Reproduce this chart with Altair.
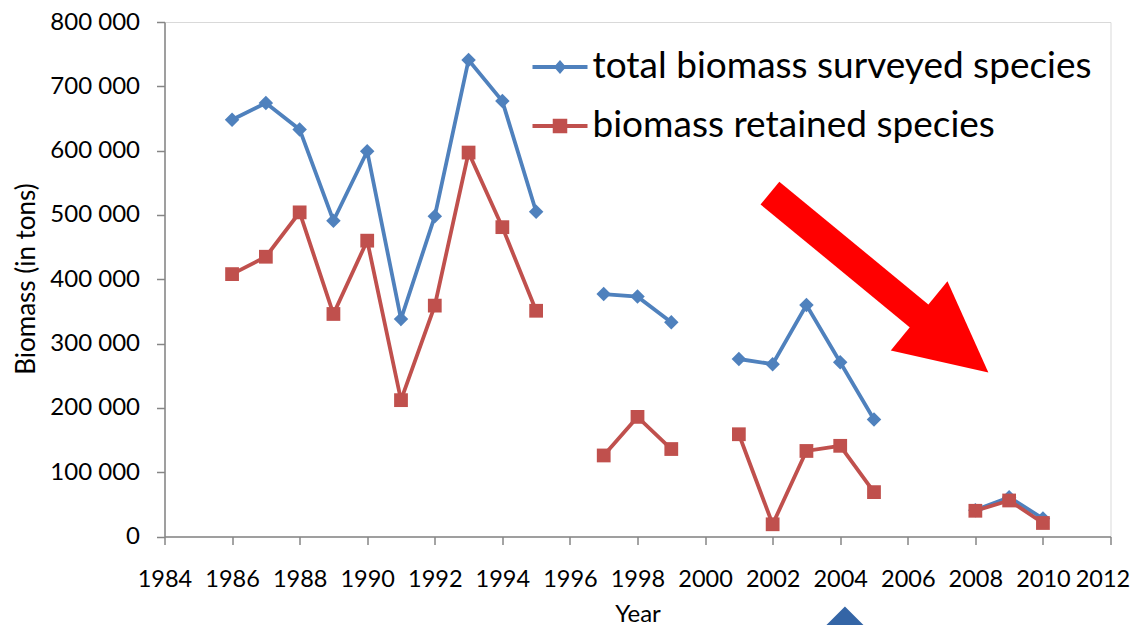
import altair as alt
import pandas as pd

# ---------------- data ----------------
years = [1986, 1987, 1988, 1989, 1990, 1991, 1992, 1993, 1994, 1995,
         1997, 1998, 1999, 2001, 2002, 2003, 2004, 2005, 2008, 2009, 2010]
total_biomass = [648000, 674000, 633000, 491000, 599000, 338000, 498000, 741000, 677000, 505000,
                 377000, 373000, 333000, 276000, 268000, 360000, 271000, 182000, 41000, 61000, 28000]
retained_biomass = [408000, 435000, 504000, 346000, 460000, 212000, 359000, 597000, 481000, 351000,
                    126000, 186000, 136000, 159000, 19000, 133000, 141000, 69000, 40000, 56000, 21000]
series_names = ["total biomass surveyed species", "biomass retained species"]
series_colors = ["#4F81BD", "#C0504D"]
x_ticks = list(range(1984, 2013, 2))
y_ticks = list(range(0, 800001, 100000))

# annotation: big red arrow (data coordinates)
arrow_years = [2001.92, 2006.52]
arrow_values = [534000, 335000]
arrow_head_year = [2007.36]
arrow_head_value = [299000]
# partially visible blue diamond below the axis
extra_year = [2004.14]
extra_value = [-171000]

# ---------------- tables ----------------
rows = []
for name, vals in zip(series_names, [total_biomass, retained_biomass]):
    seg = 0
    for i, (yr, v) in enumerate(zip(years, vals)):
        if i > 0 and yr - years[i - 1] > 1:
            seg += 1
        rows.append({"year": yr, "value": v, "series": name, "segment": f"{name}-{seg}"})
df = pd.DataFrame(rows)
arrow_df = pd.DataFrame({"year": arrow_years, "value": arrow_values})
head_df = pd.DataFrame({"year": arrow_head_year, "value": arrow_head_value})
extra_df = pd.DataFrame({"year": extra_year, "value": extra_value})

# ---------------- shapes ----------------
diamond_path = "M 0 -1 L 1 0 L 0 1 L -1 0 Z"
square_path = "M -0.95 -0.95 L 0.95 -0.95 L 0.95 0.95 L -0.95 0.95 Z"
leg_diamond = ("M -1 -0.07 L 1 -0.07 L 1 0.07 L -1 0.07 Z "
               "M 0 -0.255 L 0.22 0 L 0 0.255 L -0.22 0 Z")
leg_square = ("M -1 -0.07 L 1 -0.07 L 1 0.07 L -1 0.07 Z "
              "M -0.264 -0.264 L 0.264 -0.264 L 0.264 0.264 L -0.264 0.264 Z")
head_path = "M -1 -1 L 1 0 L -1 1 Z"

FONT = "Lato"
AX = "#868686"

x_scale = alt.Scale(domain=[1984, 2012], nice=False, zero=False)
y_scale = alt.Scale(domain=[0, 800000], nice=False, zero=False)
color_scale = alt.Scale(domain=series_names, range=series_colors)

x_axis = alt.Axis(values=x_ticks, format="d", title="Year", grid=False,
                  domainColor=AX, domainWidth=1.5, tickColor=AX, tickWidth=1.5, tickSize=8,
                  labelFont=FONT, labelFontSize=23.5, labelColor="black", labelPadding=23,
                  labelFlush=False, labelOverlap=False,
                  labelOffset={"condition": {"test": "datum.value == 2012", "value": -8}, "value": 0},
                  titleFont=FONT, titleFontSize=24, titleFontWeight="normal", titleColor="black",
                  titleY=78, titleBaseline="middle")
y_axis = alt.Axis(values=y_ticks, title="Biomass (in tons)", grid=False,
                  labelExpr="replace(format(datum.value, ','), regexp(',', 'g'), ' ')",
                  domainColor=AX, domainWidth=1.5, tickColor=AX, tickWidth=1.5, tickSize=8,
                  labelFont=FONT, labelFontSize=24, labelColor="black", labelPadding=17,
                  labelOverlap=False,
                  titleFont=FONT, titleFontSize=26, titleFontWeight="normal", titleColor="black",
                  titleX=-138, titleY=256.5, titleBaseline="middle")

legend = alt.Legend(orient="none", legendX=368, legendY=17.5, title=None,
                    labelFont=FONT, labelFontSize=37, labelColor="black", labelLimit=900,
                    labelOffset=5, symbolSize=3025, symbolStrokeWidth=0, symbolOpacity=1,
                    rowPadding=13, padding=0)

base = alt.Chart(df)

lines = base.mark_line(strokeWidth=3.8).encode(
    x=alt.X("year:Q", scale=x_scale, axis=x_axis),
    y=alt.Y("value:Q", scale=y_scale, axis=y_axis),
    color=alt.Color("series:N", scale=color_scale, legend=None),
    detail="segment:N",
    order="year:Q",
)

points = base.mark_point(filled=True, opacity=1, size=210, strokeWidth=0).encode(
    x="year:Q", y="value:Q",
    color=alt.Color("series:N", scale=color_scale, legend=None),
    shape=alt.Shape("series:N", scale=alt.Scale(domain=series_names, range=[diamond_path, square_path]),
                    legend=None),
)

legend_layer = base.transform_filter("false").mark_point(filled=True, opacity=1, size=3025).encode(
    x="year:Q", y="value:Q",
    color=alt.Color("series:N", scale=color_scale, legend=legend),
    shape=alt.Shape("series:N", scale=alt.Scale(domain=series_names, range=[leg_diamond, leg_square]),
                    legend=legend),
)

shaft = alt.Chart(arrow_df).mark_line(color="#FF0000", strokeWidth=29.5, strokeCap="butt").encode(
    x="year:Q", y="value:Q")
head = alt.Chart(head_df).mark_point(shape=head_path, size=8010, filled=True, color="#FF0000",
                                     opacity=1, angle=39.3, strokeWidth=0).encode(
    x="year:Q", y="value:Q")
extra = alt.Chart(extra_df).mark_point(shape=diamond_path, size=6400, filled=True, color="#3465A6",
                                       opacity=1, strokeWidth=0).encode(
    x="year:Q", y="value:Q")

chart = alt.layer(lines, points, legend_layer, shaft, head, extra).resolve_scale(
    color="independent", shape="independent"
).properties(
    width=946, height=514.5,
    padding={"left": 156.5, "top": 14, "right": 19.5, "bottom": 90},
    autosize="none",
    background="white",
).configure_view(stroke="#D9D9D9", strokeWidth=1)

chart.save("out.html", embed_options={"renderer": "svg", "actions": False})
